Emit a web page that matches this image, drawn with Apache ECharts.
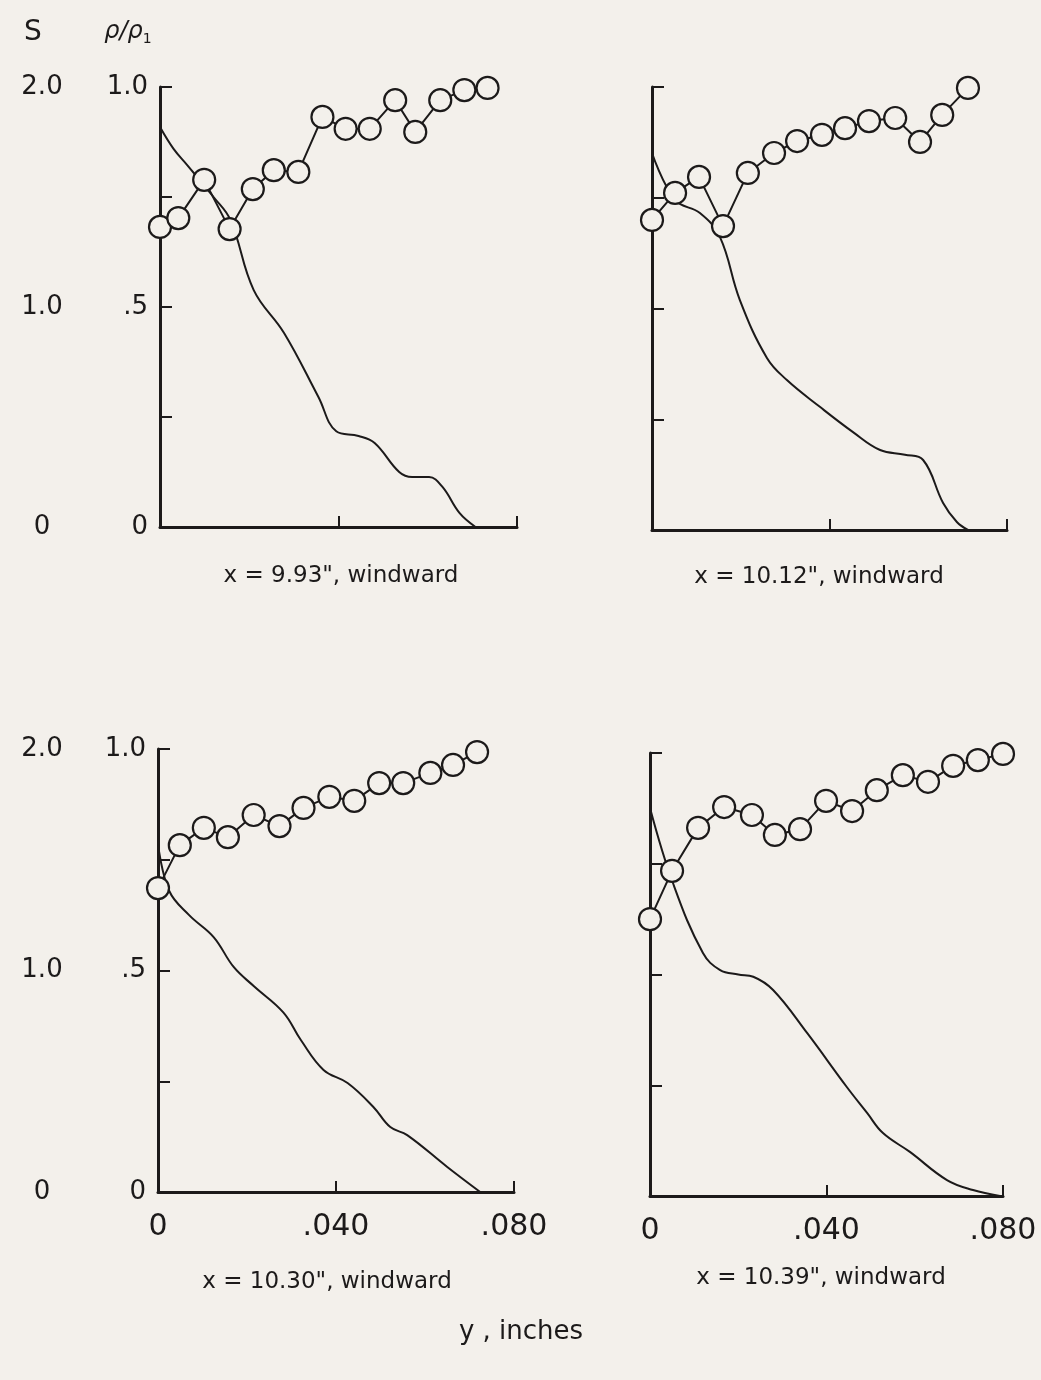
<!DOCTYPE html>
<html>
<head>
<meta charset="utf-8">
<script src="https://cdn.jsdelivr.net/npm/echarts@6/dist/echarts.min.js"></script>
<style>
html,body{margin:0;padding:0;background:#f3f0eb;}
#chart{width:1041px;height:1380px;}
</style>
</head>
<body>
<div id="chart"></div>
<script>
// ---------- data ----------
const panelTitles = ['x = 9.93", windward', 'x = 10.12", windward', 'x = 10.30", windward', 'x = 10.39", windward'];
const xTickLabels = ['0', '.040', '.080'];
const rhoTickLabels = ['0', '', '.5', '', '1.0'];
const sTickLabels = ['0', '1.0', '2.0'];

// panel 1: x = 9.93"
const p1RhoX = [0, 0.0041, 0.0099, 0.0156, 0.0208, 0.0255, 0.0310, 0.0364, 0.0416, 0.0470, 0.0527, 0.0572, 0.0628, 0.0682, 0.0734];
const p1Rho  = [0.682, 0.702, 0.789, 0.677, 0.768, 0.811, 0.807, 0.932, 0.905, 0.905, 0.970, 0.898, 0.970, 0.993, 0.998];
const p1SX   = [0, 0.0030, 0.0061, 0.0120, 0.0158, 0.0210, 0.0278, 0.0355, 0.0395, 0.0445, 0.0481, 0.0536, 0.0565, 0.0603, 0.0633, 0.0671, 0.0707];
const p1S    = [1.818, 1.72, 1.645, 1.50, 1.395, 1.077, 0.882, 0.591, 0.435, 0.414, 0.382, 0.25, 0.227, 0.227, 0.182, 0.064, 0];

// panel 2: x = 10.12"
const p2RhoX = [0, 0.0052, 0.0106, 0.0160, 0.0216, 0.0275, 0.0327, 0.0383, 0.0435, 0.0489, 0.0548, 0.0604, 0.0654, 0.0712];
const p2Rho  = [0.700, 0.761, 0.797, 0.686, 0.806, 0.851, 0.878, 0.892, 0.907, 0.923, 0.930, 0.876, 0.937, 0.998];
const p2SX   = [0, 0.0052, 0.0108, 0.0153, 0.0198, 0.0259, 0.0304, 0.0379, 0.0453, 0.0514, 0.0570, 0.0611, 0.0656, 0.0687, 0.0712];
const p2S    = [1.702, 1.490, 1.431, 1.323, 1.038, 0.777, 0.677, 0.555, 0.442, 0.361, 0.340, 0.316, 0.122, 0.036, 0];

// panel 3: x = 10.30"
const p3RhoX = [0, 0.0049, 0.0103, 0.0157, 0.0215, 0.0273, 0.0327, 0.0385, 0.0441, 0.0497, 0.0551, 0.0612, 0.0663, 0.0717];
const p3Rho  = [0.686, 0.783, 0.822, 0.801, 0.851, 0.826, 0.867, 0.892, 0.883, 0.923, 0.923, 0.946, 0.964, 0.993];
const p3SX   = [0, 0.0025, 0.0070, 0.0125, 0.0170, 0.0215, 0.0282, 0.0321, 0.0372, 0.0426, 0.0484, 0.0522, 0.0560, 0.0650, 0.0724];
const p3S    = [1.57, 1.36, 1.25, 1.151, 1.016, 0.93, 0.81, 0.686, 0.551, 0.492, 0.384, 0.293, 0.257, 0.113, 0];

// panel 4: x = 10.39"
const p4RhoX = [0, 0.0050, 0.0109, 0.0168, 0.0231, 0.0283, 0.0340, 0.0399, 0.0458, 0.0514, 0.0573, 0.0630, 0.0687, 0.0743, 0.0800];
const p4Rho  = [0.625, 0.734, 0.831, 0.878, 0.860, 0.815, 0.828, 0.892, 0.869, 0.916, 0.950, 0.935, 0.971, 0.984, 0.998];
const p4SX   = [0, 0.0052, 0.0120, 0.0159, 0.0200, 0.0234, 0.0279, 0.0356, 0.0446, 0.0492, 0.0528, 0.0589, 0.0673, 0.0732, 0.0793];
const p4S    = [1.752, 1.413, 1.097, 1.02, 1.0, 0.99, 0.93, 0.736, 0.492, 0.375, 0.284, 0.199, 0.072, 0.027, 0];

// ---------- chart ----------
const INK = '#1c1a1a';
const BG = '#f3f0eb';
const FONT = 'DejaVu Sans';

const panels = [
  {rx: p1RhoX, r: p1Rho, sx: p1SX, s: p1S, grid: {left: 160, top: 87, width: 357, height: 440}, leftLabels: true,  bottomLabels: false},
  {rx: p2RhoX, r: p2Rho, sx: p2SX, s: p2S, grid: {left: 652, top: 87, width: 355, height: 443}, leftLabels: false, bottomLabels: false},
  {rx: p3RhoX, r: p3Rho, sx: p3SX, s: p3S, grid: {left: 158, top: 749, width: 356, height: 443}, leftLabels: true,  bottomLabels: true},
  {rx: p4RhoX, r: p4Rho, sx: p4SX, s: p4S, grid: {left: 650, top: 753, width: 353, height: 443}, leftLabels: false, bottomLabels: true}
];

const zip = (a, b) => a.map((v, i) => [v, b[i]]);

const grids = [], xAxes = [], yAxes = [], series = [];
panels.forEach((p, i) => {
  grids.push(Object.assign({containLabel: false}, p.grid));
  xAxes.push({
    type: 'value', gridIndex: i, min: 0, max: 0.08, interval: 0.04,
    axisLine: {show: true, onZero: false, lineStyle: {color: INK, width: 3}},
    axisTick: {show: true, inside: true, length: 11, lineStyle: {color: INK, width: 2}},
    axisLabel: {show: p.bottomLabels, margin: 20, fontSize: 30, color: INK, fontFamily: FONT,
      formatter: v => xTickLabels[Math.round(v / 0.04)]},
    splitLine: {show: false}
  });
  yAxes.push({
    type: 'value', gridIndex: i, min: 0, max: 1, interval: 0.25, position: 'left',
    axisLine: {show: true, onZero: false, lineStyle: {color: INK, width: 3}},
    axisTick: {show: true, inside: true, length: 12, lineStyle: {color: INK, width: 2}},
    axisLabel: {show: p.leftLabels, margin: 12, fontSize: 26, color: INK, fontFamily: FONT,
      formatter: v => rhoTickLabels[Math.round(v / 0.25)]},
    splitLine: {show: false}
  });
  yAxes.push({
    type: 'value', gridIndex: i, min: 0, max: 2, interval: 1, position: 'left',
    show: p.leftLabels,
    axisLine: {show: false}, axisTick: {show: false},
    axisLabel: {show: p.leftLabels, margin: p.grid.left - 42, align: 'center', fontSize: 26, color: INK, fontFamily: FONT,
      formatter: v => sTickLabels[Math.round(v)]},
    splitLine: {show: false}
  });
  series.push({
    type: 'line', xAxisIndex: i, yAxisIndex: 2 * i + 1, data: zip(p.sx, p.s),
    symbol: 'none', smooth: 0.4,
    lineStyle: {color: INK, width: 2}, z: 2, silent: true
  });
  series.push({
    type: 'line', xAxisIndex: i, yAxisIndex: 2 * i, data: zip(p.rx, p.r),
    symbol: 'circle', symbolSize: 22, showAllSymbol: true,
    itemStyle: {color: BG, borderColor: INK, borderWidth: 2.2},
    lineStyle: {color: INK, width: 2}, z: 3, silent: true
  });
});

const txt = (x, y, text, size, extra) => Object.assign({
  type: 'text', x: x, y: y,
  style: {text: text, fontSize: size, fontFamily: FONT, fill: INK, align: 'center', verticalAlign: 'middle'}
}, extra || {});

const graphics = [
  txt(33, 33, 'S', 28),
  {type: 'text', x: 128, y: 32,
   style: {text: '{a|ρ/ρ}{b|1}', fontFamily: FONT, fill: INK, align: 'center', verticalAlign: 'middle',
     rich: {a: {fontSize: 24, fontStyle: 'italic', fontFamily: FONT, fill: INK},
            b: {fontSize: 14, fontFamily: FONT, fill: INK, padding: [14, 0, 0, 0]}}}},
  txt(341, 576, panelTitles[0], 23),
  txt(819, 577, panelTitles[1], 23),
  txt(327, 1282, panelTitles[2], 23),
  txt(821, 1278, panelTitles[3], 23),
  txt(521, 1332, 'y , inches', 26)
];

const chart = echarts.init(document.getElementById('chart'), null, {renderer: 'canvas'});
chart.setOption({
  animation: false,
  backgroundColor: BG,
  grid: grids,
  xAxis: xAxes,
  yAxis: yAxes,
  series: series,
  graphic: graphics
});
</script>
</body>
</html>
